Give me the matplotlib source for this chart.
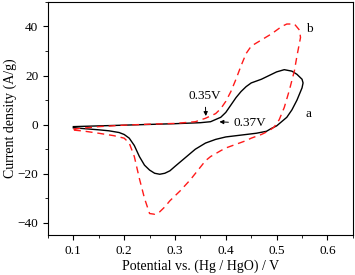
import numpy as np
import matplotlib
matplotlib.use('Agg')
import matplotlib.pyplot as plt
from matplotlib.ticker import MultipleLocator

plt.rcParams['font.family'] = 'Liberation Serif'

# curve a (black, solid), forward then reverse scan
va = [0.10, 0.15, 0.20, 0.25, 0.30, 0.35, 0.37, 0.39, 0.40, 0.41, 0.42, 0.43, 0.44, 0.45,
      0.47, 0.49, 0.50, 0.515, 0.53, 0.54, 0.55, 0.552,
      0.55, 0.54, 0.53, 0.52, 0.50, 0.49, 0.48, 0.46, 0.44, 0.42, 0.40, 0.38, 0.36, 0.34,
      0.32, 0.30, 0.29, 0.28, 0.27, 0.26, 0.25, 0.24, 0.23, 0.22, 0.21, 0.20, 0.19, 0.17,
      0.15, 0.12, 0.10]
ia = [-0.8, -0.5, -0.2, 0.1, 0.4, 0.8, 1.2, 3, 5, 8, 11, 13.5, 15.5, 17,
      18.5, 20.5, 21.5, 22.4, 21.8, 20.5, 18.5, 17,
      15, 10, 6, 3, -0.5, -1.5, -2.7, -3.5, -4, -4.5, -5, -6, -7.5, -10,
      -13.5, -17, -18.8, -19.8, -20.2, -19.8, -18.5, -16.5, -13, -8.5, -5.5, -4, -3.2, -2.5,
      -2.1, -1.6, -1.3]

# curve b (red, dashed)
vb = [0.10, 0.15, 0.20, 0.25, 0.30, 0.34, 0.36, 0.38, 0.39, 0.40, 0.41, 0.42, 0.43, 0.44,
      0.45, 0.47, 0.49, 0.51, 0.52, 0.535, 0.545, 0.547,
      0.54, 0.535, 0.525, 0.515, 0.505, 0.495, 0.485, 0.47, 0.45, 0.44, 0.42, 0.40, 0.39,
      0.37, 0.36, 0.33, 0.31, 0.29, 0.28, 0.27, 0.26, 0.25, 0.24, 0.23, 0.22, 0.21, 0.20,
      0.18, 0.15, 0.12, 0.10]
ib = [-1.8, -0.8, -0.2, 0.2, 0.5, 1.2, 2.6, 4.5, 6.5, 9.5, 13.5, 18.5, 24, 29,
      32, 34.5, 37, 40, 41, 41, 38.5, 35.5,
      28, 22, 14, 7, 2, -1, -2.5, -4, -5.5, -6.5, -8, -9.5, -10.6,
      -13, -14.7, -22.5, -27, -31, -33.5, -35.5, -36.5, -36.2, -30, -22, -13, -7.5, -5.5,
      -4.5, -3.5, -2.6, -2.2]

fig = plt.figure(figsize=(3.55, 2.75), dpi=100)
ax = fig.add_axes([0.135, 0.145, 0.859, 0.848])

ax.plot(va, ia, color='black', lw=1.0)
ax.plot(vb, ib, color='#ff1a1a', lw=1.0, dashes=(5, 3.5))

ax.set_xlim(0.05, 0.65)
ax.set_ylim(-45, 50)
ax.set_xticks([0.1, 0.2, 0.3, 0.4, 0.5, 0.6])
ax.set_yticks([-40, -20, 0, 20, 40])
ax.xaxis.set_minor_locator(MultipleLocator(0.05))
ax.yaxis.set_minor_locator(MultipleLocator(10))
ax.tick_params(which='both', direction='out', labelsize=9.5, top=False, right=False)
ax.tick_params(which='major', length=3.5)
ax.tick_params(which='minor', length=2)
ax.set_xlabel('Potential vs. (Hg / HgO) / V', fontsize=10, labelpad=2)
ax.set_ylabel('Current density (A/g)', fontsize=10, labelpad=0)

ax.annotate('0.35V', xy=(0.361, 2.4), xytext=(0.359, 11.8), fontsize=9.5,
            ha='center', va='center',
            arrowprops=dict(arrowstyle='-|>', color='black', lw=0.7, mutation_scale=6))
ax.annotate('0.37V', xy=(0.382, 1.2), xytext=(0.416, 0.6), fontsize=9.5,
            ha='left', va='center',
            arrowprops=dict(arrowstyle='-|>', color='black', lw=0.7, mutation_scale=6))
ax.text(0.557, 4.5, 'a', fontsize=9.5, ha='left', va='center')
ax.text(0.557, 39, 'b', fontsize=9.5, ha='left', va='center')

fig.savefig('out.png', dpi=100)
